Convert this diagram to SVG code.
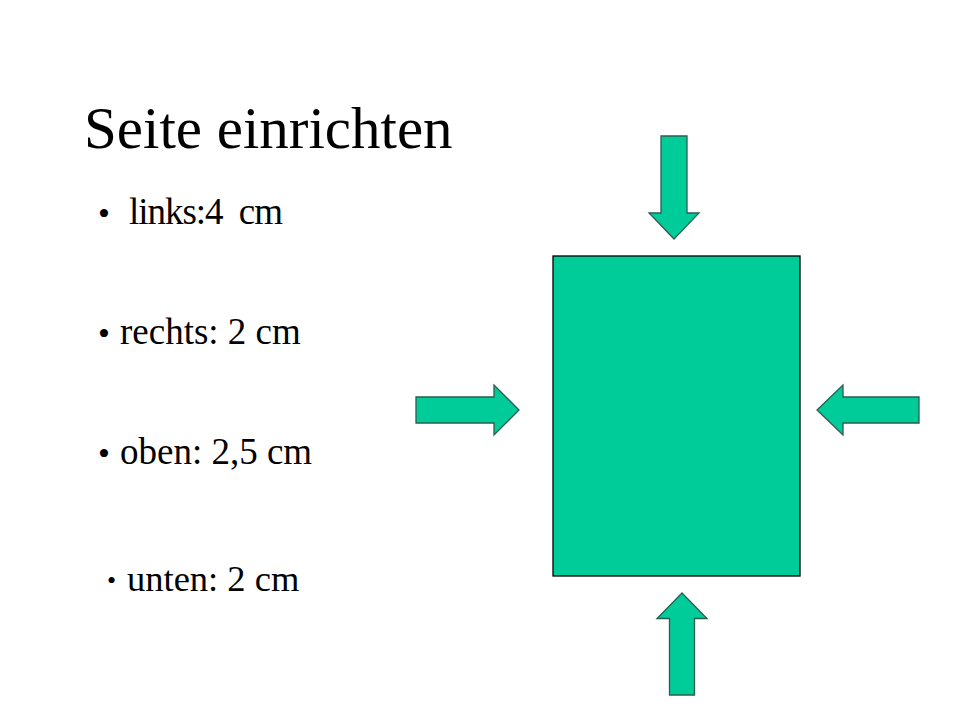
<svg xmlns="http://www.w3.org/2000/svg" width="960" height="720" viewBox="0 0 960 720">
  <style>
    .t { font-family: "Liberation Serif", "Times New Roman", serif; fill: #000; }
    .title { font-size: 59px; }
    .item { font-size: 37px; white-space: pre; }
    .blt { font-size: 34px; }
    .blt-s { font-size: 26px; }
    .page { fill: #00CC99; stroke: #000; stroke-width: 1.3; }
    .arrow { fill: #00CC99; stroke: #2B5E50; stroke-width: 1.3; stroke-linejoin: miter; }
  </style>
  <rect width="960" height="720" fill="#fff"/>

  <g id="title">
    <text class="t title" x="84" y="148">Seite einrichten</text>
  </g>

  <g id="item-links">
    <text class="t blt" x="98" y="225">•</text>
    <text class="t item" x="129" y="224" xml:space="preserve" textLength="154" lengthAdjust="spacing">links:4  cm</text>
  </g>
  <g id="item-rechts">
    <text class="t blt" x="98" y="345">•</text>
    <text class="t item" x="120" y="344">rechts: 2 cm</text>
  </g>
  <g id="item-oben">
    <text class="t blt" x="98" y="465">•</text>
    <text class="t item" x="120" y="464">oben: 2,5 cm</text>
  </g>
  <g id="item-unten">
    <text class="t blt-s" x="107" y="589">•</text>
    <text class="t item" x="127" y="591" style="font-size:36.5px">unten: 2 cm</text>
  </g>

  <g id="page">
    <rect class="page" x="553" y="256" width="247" height="320"/>
  </g>

  <g id="connectors">
    <g id="arrow-top">
      <polygon class="arrow" points="661,136 687,136 687,213 699,213 674,239 649,213 661,213"/>
    </g>
    <g id="arrow-left">
      <polygon class="arrow" points="416,397 494,397 494,385 519,410 494,435 494,423 416,423"/>
    </g>
    <g id="arrow-right">
      <polygon class="arrow" points="919,397 843,397 843,385 817,410 843,435 843,423 919,423"/>
    </g>
    <g id="arrow-bottom">
      <polygon class="arrow" points="669.5,695 694.5,695 694.5,618.5 707,618.5 682,593 657,618.5 669.5,618.5"/>
    </g>
  </g>
</svg>
